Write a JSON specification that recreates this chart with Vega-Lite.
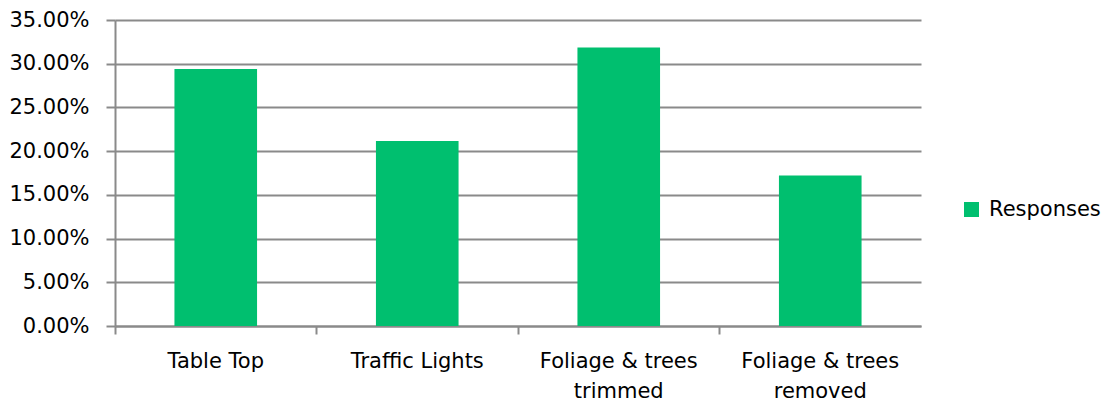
{
  "$schema": "https://vega.github.io/schema/vega-lite/v6.json",
  "width": 806,
  "height": 306,
  "autosize": "none",
  "padding": {"left": 115, "top": 20, "right": 181, "bottom": 81},
  "background": "white",
  "config": {
    "view": {"stroke": null},
    "font": "DejaVu Sans",
    "axis": {"labelFont": "DejaVu Sans", "labelFontSize": 21, "labelColor": "#000000"},
    "legend": {"labelFont": "DejaVu Sans", "labelFontSize": 21, "labelColor": "#000000"}
  },
  "data": {
    "values": [
      {"category": "Table Top", "value": 0.294, "series": "Responses"},
      {"category": "Traffic Lights", "value": 0.2115, "series": "Responses"},
      {"category": "Foliage & trees trimmed", "value": 0.3185, "series": "Responses"},
      {"category": "Foliage & trees removed", "value": 0.172, "series": "Responses"}
    ]
  },
  "mark": {"type": "bar", "width": {"band": 0.41}},
  "encoding": {
    "x": {
      "field": "category",
      "type": "nominal",
      "sort": null,
      "scale": {"paddingInner": 0, "paddingOuter": 0},
      "axis": {
        "title": null,
        "labelAngle": 0,
        "ticks": true,
        "bandPosition": 0,
        "tickSize": 8,
        "tickColor": "#8a8a8a",
        "tickWidth": 2,
        "domainColor": "#8a8a8a",
        "domainWidth": 2,
        "labelPadding": 16,
        "labelLineHeight": 30,
        "labelBaseline": "top",
        "labelExpr": "indexof(datum.value, 'Foliage') == 0 ? ['Foliage & trees', substring(datum.value, 16)] : datum.value"
      }
    },
    "y": {
      "field": "value",
      "type": "quantitative",
      "scale": {"domain": [0, 0.35], "nice": false},
      "axis": {
        "title": null,
        "format": ".2%",
        "values": [0, 0.05, 0.1, 0.15, 0.2, 0.25, 0.3, 0.35],
        "grid": true,
        "gridColor": "#8a8a8a",
        "gridWidth": 2,
        "tickSize": 9,
        "tickColor": "#8a8a8a",
        "tickWidth": 2,
        "domainColor": "#8a8a8a",
        "domainWidth": 2,
        "labelPadding": 17
      }
    },
    "color": {
      "field": "series",
      "type": "nominal",
      "scale": {"range": ["#00BF6F"]},
      "legend": {
        "title": null,
        "offset": -139,
        "padding": 179,
        "symbolType": "square",
        "symbolSize": 225,
        "symbolStrokeWidth": 0,
        "labelOffset": 7
      }
    }
  }
}
